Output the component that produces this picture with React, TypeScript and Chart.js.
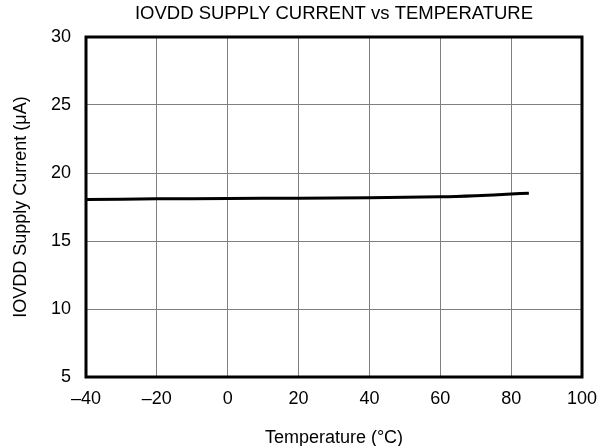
import React, { useEffect, useRef } from "react";
import { Chart, registerables } from "chart.js";

Chart.register(...registerables);

const TITLE = "IOVDD SUPPLY CURRENT vs TEMPERATURE";
const X_TITLE = "Temperature (°C)";
const Y_TITLE = "IOVDD Supply Current (μA)";
const temperatures = [-40, -20, 0, 20, 40, 60, 70, 80, 85];
const currents = [18.05, 18.1, 18.12, 18.15, 18.18, 18.25, 18.33, 18.45, 18.52];
const X_MIN = -40, X_MAX = 100, X_STEP = 20;
const Y_MIN = 5, Y_MAX = 30, Y_STEP = 5;

const FONT = "'Liberation Sans', Arial, Helvetica, sans-serif";

const framePlugin = {
  id: "frameAndTitle",
  afterDraw(chart: any) {
    const { ctx, chartArea } = chart;
    ctx.save();
    ctx.strokeStyle = "#000";
    ctx.lineWidth = 3;
    ctx.strokeRect(chartArea.left, chartArea.top, chartArea.right - chartArea.left, chartArea.bottom - chartArea.top);
    ctx.fillStyle = "#000";
    ctx.font = `18.5px ${FONT}`;
    ctx.textAlign = "center";
    ctx.textBaseline = "middle";
    ctx.fillText(TITLE, (chartArea.left + chartArea.right) / 2, 14);
    ctx.restore();
  },
};

export default function App() {
  const ref = useRef<HTMLCanvasElement>(null);
  useEffect(() => {
    document.body.style.margin = "0";
    const chart = new Chart(ref.current!, {
      type: "line",
      data: {
        datasets: [
          {
            data: temperatures.map((t, i) => ({ x: t, y: currents[i] })),
            borderColor: "#000",
            borderWidth: 3,
            pointRadius: 0,
            tension: 0.3,
            fill: false,
          },
        ],
      },
      options: {
        animation: false,
        responsive: false,
        maintainAspectRatio: false,
        layout: { padding: { top: 37, right: 32, left: 0, bottom: 0 } },
        plugins: { legend: { display: false }, tooltip: { enabled: false }, title: { display: false } },
        scales: {
          x: {
            type: "linear",
            min: X_MIN,
            max: X_MAX,
            afterFit: (s: any) => { s.height = 69; },
            ticks: {
              stepSize: X_STEP,
              color: "#000",
              font: { family: FONT, size: 18 },
              padding: 11,
              maxRotation: 0,
              callback: (v: any) => String(v).replace("-", "\u2013"),
            },
            grid: { color: "#808080", lineWidth: 1, drawTicks: false },
            border: { display: false },
            title: { display: true, text: X_TITLE, color: "#000", font: { family: FONT, size: 18 }, padding: { top: 0, bottom: -3 } },
          },
          y: {
            type: "linear",
            min: Y_MIN,
            max: Y_MAX,
            afterFit: (s: any) => { s.width = 86; },
            ticks: {
              stepSize: Y_STEP,
              color: "#000",
              font: { family: FONT, size: 18 },
              padding: 15,
            },
            grid: { color: "#808080", lineWidth: 1, drawTicks: false },
            border: { display: false },
            title: { display: true, text: Y_TITLE, color: "#000", font: { family: FONT, size: 18 }, padding: { top: 10, bottom: 0 } },
          },
        },
      },
      plugins: [framePlugin],
    });
    return () => chart.destroy();
  }, []);
  return <canvas ref={ref} width={614} height={446} style={{ display: "block" }} />;
}
